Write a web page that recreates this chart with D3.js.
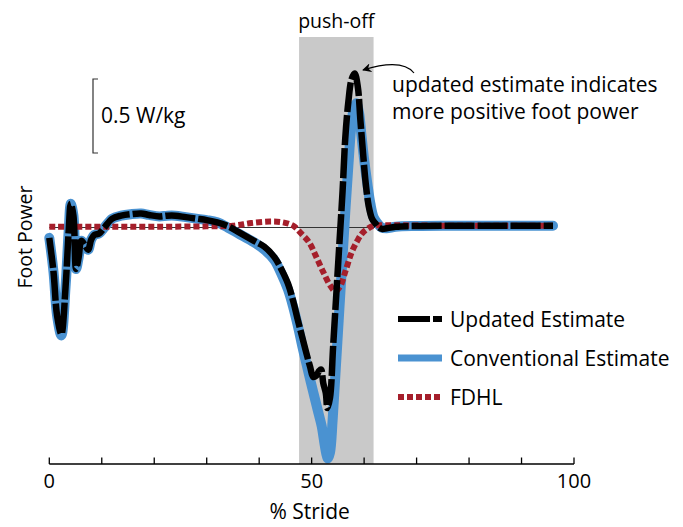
<!DOCTYPE html>
<html>
<head>
<style>
  body {
    margin: 0;
    background-color: #ffffff;
  }

  .chart {
    width: 683px;
    height: 527px;
    font-family: 'Open Sans', sans-serif;
  }
</style>
  <script src="https://d3js.org/d3.v7.min.js"></script>
</head>
<body>
<script>
// foot power over the stride - three estimates, push-off shaded

const strideUpdated = [0, 0.8, 1.5, 2.3, 3.1, 3.7, 4.1, 4.6, 5.1, 5.6, 6.1, 6.8, 7.4, 8.0, 8.6, 9.5, 10.5, 12, 13.7,
  15.5, 17.5, 19, 21, 22.5, 24, 26, 28, 30, 32, 34, 36, 39, 41, 42.9, 44.2, 45.5, 46.5, 47.4, 48.2, 49.0, 49.7, 50.3,
  50.9, 51.4, 51.8, 52.2, 52.7, 53.0, 53.5, 54.1, 54.7, 55.3, 55.9, 56.4, 57.0, 57.6, 58.2, 58.8, 59.3, 59.8, 60.3,
  60.9, 61.5, 62.1, 62.8, 63.5, 64.3, 66, 70, 75, 80, 85, 90, 96];
const powerUpdated = [-0.07, -0.3, -0.6, -0.72, -0.4, -0.02, 0.16, 0.08, -0.28, -0.2, -0.09, -0.12, -0.15, -0.08, -0.05,
  -0.04, 0.0, 0.06, 0.08, 0.09, 0.095, 0.085, 0.075, 0.08, 0.08, 0.07, 0.06, 0.05, 0.035, 0.01, -0.03, -0.09, -0.13,
  -0.2, -0.28, -0.38, -0.5, -0.63, -0.74, -0.85, -0.94, -1.01, -1.0, -0.97, -0.96, -1.05, -1.12, -1.22, -1.15, -0.8,
  -0.45, -0.1, 0.25, 0.6, 0.85, 1.0, 1.04, 0.95, 0.72, 0.5, 0.3, 0.14, 0.06, 0.03, 0.0, -0.01, -0.005, 0.005, 0.01,
  0.012, 0.012, 0.012, 0.012, 0.012];

const strideConventional = [0, 0.8, 1.5, 2.3, 3.1, 3.7, 4.1, 4.6, 5.1, 5.6, 6.1, 6.8, 7.4, 8.0, 8.6, 9.5, 10.5, 12, 13.7,
  15.5, 17.5, 19, 21, 22.5, 24, 26, 28, 30, 32, 34, 36, 39, 41, 42.9, 44.2, 45.5, 46.5, 47.4, 48.2, 49.0, 49.8, 50.5,
  51.2, 51.9, 52.4, 52.8, 53.1, 53.5, 54.0, 54.6, 55.2, 55.8, 56.4, 57.0, 57.5, 58.0, 58.5, 59.0, 59.5, 60.0, 60.6,
  61.2, 61.8, 62.5, 63.3, 64.3, 66, 70, 75, 80, 85, 90, 96];
const powerConventional = [-0.07, -0.3, -0.6, -0.73, -0.4, -0.02, 0.16, 0.08, -0.28, -0.2, -0.09, -0.12, -0.15, -0.08,
  -0.05, -0.04, 0.0, 0.06, 0.08, 0.09, 0.095, 0.085, 0.075, 0.08, 0.08, 0.07, 0.06, 0.05, 0.035, 0.0, -0.04, -0.1,
  -0.15, -0.22, -0.31, -0.42, -0.54, -0.67, -0.8, -0.92, -1.04, -1.14, -1.24, -1.34, -1.45, -1.53, -1.56, -1.52, -1.3,
  -0.95, -0.6, -0.25, 0.1, 0.42, 0.66, 0.8, 0.84, 0.78, 0.62, 0.46, 0.3, 0.16, 0.07, 0.03, 0.0, -0.005, 0.005, 0.01,
  0.012, 0.012, 0.012, 0.012, 0.012];

const strideFdhl = [0, 10, 20, 30, 35, 38.5, 42, 44.5, 46.5, 48, 49.5, 50.9, 52.2, 53.5, 54.5, 55.4, 56.4, 57.6, 58.7,
  59.6, 60.6, 61.6, 63, 66, 75, 85, 96];
const powerFdhl = [0.005, 0.005, 0.005, 0.008, 0.012, 0.03, 0.04, 0.035, 0.012, -0.04, -0.1, -0.2, -0.3, -0.39, -0.43,
  -0.4, -0.3, -0.17, -0.09, -0.04, -0.01, 0.01, 0.015, 0.015, 0.012, 0.012, 0.012];

const pushOff = [47.6, 61.8];
const xTicks = d3.range(0, 101, 10);
const xTickLabels = [0, 50, 100];
const scaleBarValue = 0.5;

const legendItems = [
  {label: 'Updated Estimate', key: 'updated'},
  {label: 'Conventional Estimate', key: 'conventional'},
  {label: 'FDHL', key: 'fdhl'},
];

const colors = {
  updated: '#000000',
  conventional: '#4a92d1',
  fdhl: '#a51f2b',
  shade: '#c9c9c9',
};

const svg = d3.select('body')
  .append('svg')
  .attr('class', 'chart')
  .attr('width', 683)
  .attr('height', 527);

const x = d3.scaleLinear().domain([0, 100]).range([49.3, 574]);
const y = d3.scaleLinear().domain([-1.6, 1.2]).range([464.3, 49.9]);
const axisY = 464;

const defs = svg.append('defs');
defs.append('marker')
  .attr('id', 'arrow')
  .attr('viewBox', '0 0 10 10')
  .attr('refX', 9)
  .attr('refY', 5)
  .attr('markerWidth', 9)
  .attr('markerHeight', 9)
  .attr('markerUnits', 'userSpaceOnUse')
  .attr('orient', 'auto')
  .append('path')
  .attr('d', 'M0,0 L10,5 L0,10 L3,5 Z')
  .attr('fill', '#000');

// push-off shading
svg.append('rect')
  .attr('x', x(pushOff[0]))
  .attr('y', 37)
  .attr('width', x(pushOff[1]) - x(pushOff[0]))
  .attr('height', axisY - 37)
  .attr('fill', colors.shade);

svg.append('text')
  .attr('x', (x(pushOff[0]) + x(pushOff[1])) / 2)
  .attr('y', 28)
  .attr('text-anchor', 'middle')
  .attr('font-size', 19.5)
  .text('push-off');

// zero line
svg.append('line')
  .attr('x1', x(0))
  .attr('x2', x(96))
  .attr('y1', y(0))
  .attr('y2', y(0))
  .attr('stroke', '#333')
  .attr('stroke-width', 1);

const line = d3.line()
  .x(d => x(d[0]))
  .y(d => y(d[1]))
  .curve(d3.curveCatmullRom.alpha(0.5));

const zip = (a, b) => a.map((v, i) => [v, b[i]]);

svg.append('path')
  .attr('d', line(zip(strideConventional, powerConventional)))
  .attr('fill', 'none')
  .attr('stroke', colors.conventional)
  .attr('stroke-width', 10)
  .attr('stroke-linejoin', 'round')
  .attr('stroke-linecap', 'round');

svg.append('path')
  .attr('d', line(zip(strideFdhl, powerFdhl)))
  .attr('fill', 'none')
  .attr('stroke', colors.fdhl)
  .attr('stroke-width', 6)
  .attr('stroke-dasharray', '6,3');

svg.append('path')
  .attr('d', line(zip(strideUpdated, powerUpdated)))
  .attr('fill', 'none')
  .attr('stroke', colors.updated)
  .attr('stroke-width', 6.5)
  .attr('stroke-dasharray', '30,3')
  .attr('stroke-linejoin', 'round');

// x axis, ticks pointing up
const xAxis = svg.append('g')
  .attr('transform', `translate(0,${axisY})`);

xAxis.append('line')
  .attr('x1', x(0))
  .attr('x2', x(100))
  .attr('stroke', '#000')
  .attr('stroke-width', 1.3);

xAxis.selectAll('.tick')
  .data(xTicks)
  .join('line')
  .attr('class', 'tick')
  .attr('x1', d => x(d))
  .attr('x2', d => x(d))
  .attr('y1', 0)
  .attr('y2', -6.5)
  .attr('stroke', '#000')
  .attr('stroke-width', 1.3);

xAxis.selectAll('.label')
  .data(xTickLabels)
  .join('text')
  .attr('class', 'label')
  .attr('x', d => x(d))
  .attr('y', 24)
  .attr('text-anchor', 'middle')
  .attr('font-size', 20)
  .text(d => d);

svg.append('text')
  .attr('x', x(50) - 2)
  .attr('y', 519)
  .attr('text-anchor', 'middle')
  .attr('font-size', 21)
  .text('% Stride');

svg.append('text')
  .attr('transform', `translate(32,${237}) rotate(-90)`)
  .attr('text-anchor', 'middle')
  .attr('font-size', 19.5)
  .text('Foot Power');

// 0.5 W/kg scale bar
const barTop = 79;
const barBottom = barTop + (y(0) - y(scaleBarValue));
svg.append('path')
  .attr('d', `M98,${barTop} H93 V${barBottom} H98`)
  .attr('fill', 'none')
  .attr('stroke', '#333')
  .attr('stroke-width', 1.2);

svg.append('text')
  .attr('x', 101)
  .attr('y', (barTop + barBottom) / 2 + 7)
  .attr('font-size', 21)
  .text('0.5 W/kg');

// annotation
svg.append('path')
  .attr('d', 'M414,73 Q402,58 363,70')
  .attr('fill', 'none')
  .attr('stroke', '#000')
  .attr('stroke-width', 1.2)
  .attr('marker-end', 'url(#arrow)');

svg.append('text')
  .attr('x', 392)
  .attr('y', 92)
  .attr('font-size', 21)
  .text('updated estimate indicates');

svg.append('text')
  .attr('x', 392)
  .attr('y', 119)
  .attr('font-size', 21)
  .text('more positive foot power');

// legend
const legend = svg.append('g');
const legendRow = legend.selectAll('g')
  .data(legendItems)
  .join('g')
  .attr('transform', (d, i) => `translate(398,${319 + i * 39})`);

legendRow.append('line')
  .attr('x1', 0)
  .attr('x2', 44)
  .attr('stroke', d => colors[d.key])
  .attr('stroke-width', d => d.key === 'conventional' ? 7 : 6)
  .attr('stroke-dasharray', d => d.key === 'updated' ? '32,3' : d.key === 'fdhl' ? '6,3' : null);

legendRow.append('text')
  .attr('x', 52)
  .attr('y', 7.5)
  .attr('font-size', 21)
  .text(d => d.label);
</script>
</body>
</html>
